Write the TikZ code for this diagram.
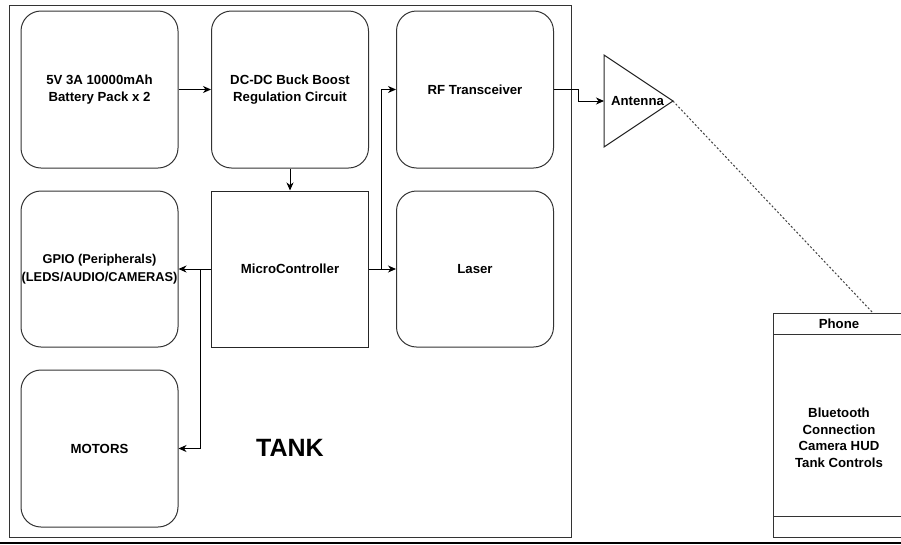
\documentclass[tikz,border=0pt]{standalone}
\usepackage{fontspec}
\setmainfont{Liberation Sans}
\usetikzlibrary{arrows.meta,calc}
\begin{document}
\begin{tikzpicture}[x=1pt,y=-1pt,
  lbl/.style={font=\bfseries\fontsize{13.2}{17.5}\selectfont, align=center, inner sep=0pt},
  rbox/.style={lbl, draw=black!80, line width=1pt, rounded corners=20pt, minimum width=157pt, minimum height=157pt},
  sbox/.style={lbl, draw=black!85, line width=1pt, minimum width=157pt, minimum height=156pt},
  arr/.style={draw=black, line width=1pt, -{Stealth[length=8pt,width=7pt,inset=2.5pt]}},
  wire/.style={draw=black, line width=1pt}
]
\useasboundingbox (0,0) rectangle (901,544);
\clip (0,0) rectangle (901,544);

% tank outline
\node[draw=black!80, line width=1pt, minimum width=562pt, minimum height=532pt, inner sep=0pt, anchor=north west] (tank) at (9,5) {};
\node[font=\bfseries\fontsize{25}{28}\selectfont, inner sep=0pt] (tanklabel) at (290,448) {TANK};

% row 1
\node[rbox] (bat)  at (99.5,89.5) {5V 3A 10000mAh\\Battery Pack x 2};
\node[rbox] (dcdc) at (290,89.5) {DC-DC Buck Boost\\Regulation Circuit};
\node[rbox] (rf)   at (475,89.5) {RF Transceiver};

% row 2
\node[rbox, minimum height=156pt, font=\bfseries\fontsize{12.8}{17.5}\selectfont] (gpio) at (99.5,269) {GPIO (Peripherals)\\(LEDS/AUDIO/CAMERAS)};
\node[sbox] (mc) at (290,269) {MicroController};
\node[rbox, minimum height=156pt] (laser) at (475,269) {Laser};

% row 3
\node[rbox] (motors) at (99.5,448.5) {MOTORS};

% antenna
\coordinate (antW) at (604,101);
\coordinate (antA) at (673,101);
\draw[draw=black!85, line width=1pt] (604,55) -- (antA) -- (604,147) -- cycle;
\node[lbl] (ant) at (637.5,101) {Antenna};

% phone
\node[draw=black!80, line width=1pt, minimum width=132pt, minimum height=224pt, inner sep=0pt, anchor=north west] (phone) at (773,313) {};
\coordinate (hdrL) at (773,334);
\coordinate (ftrL) at (773,516);
\draw[draw=black!80, line width=1pt] (hdrL) -- (hdrL -| phone.east);
\draw[draw=black!80, line width=1pt] (ftrL) -- (ftrL -| phone.east);
\node[lbl] (phonetitle) at (839,324) {Phone};
\node[lbl, font=\bfseries\fontsize{13.2}{16.5}\selectfont] (phonebody) at (839,438) {Bluetooth\\Connection\\Camera HUD\\Tank Controls};

% connectors
\draw[arr] (bat.east) -- (dcdc.west);
\draw[arr] (dcdc.south) -- (mc.north);
\draw[arr] (mc.east) -- (laser.west);
\coordinate (jr) at (381,269);
\draw[arr] (jr) |- (rf.west);
\draw[arr] (mc.west) -- (gpio.east);
\coordinate (jl) at (200,269);
\draw[arr] (jl) |- (motors.east);
\coordinate (rfk) at (578,89.5);
\draw[arr] (rf.east) -- (rfk) |- (antW);
\draw[line width=1pt, draw=black!75, dash pattern=on 2pt off 2pt] (antA) -- (phone.north west -| 873,0);

% bottom rule
\draw[line width=2pt, draw=black] (0,542.5) -- (901,542.5);
\end{tikzpicture}
\end{document}
